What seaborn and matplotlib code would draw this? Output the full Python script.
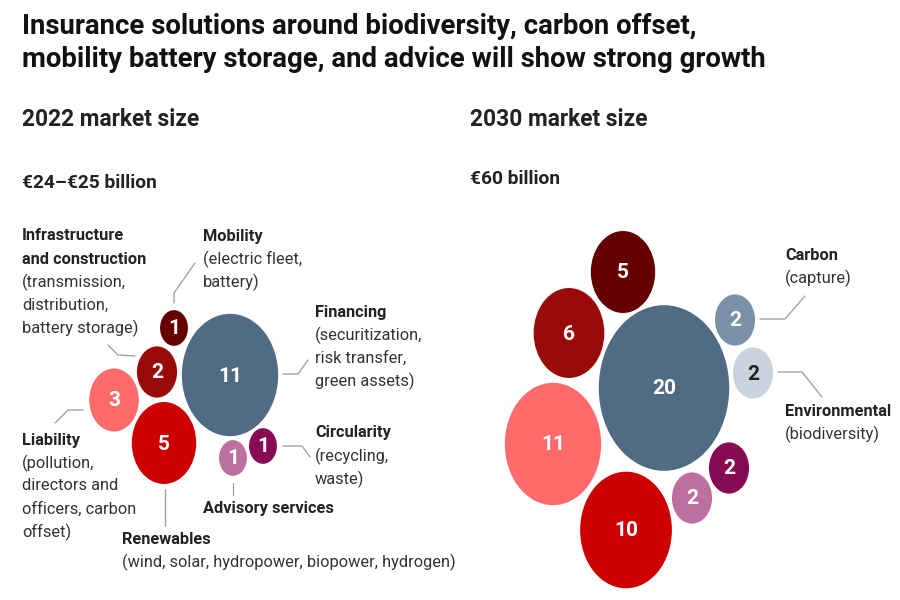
import matplotlib
matplotlib.use("Agg")
import matplotlib.pyplot as plt
from matplotlib.path import Path
from matplotlib.transforms import Affine2D
import seaborn as sns
import pandas as pd

# market size by segment, € billion
keys_2022 = ["mobility", "infrastructure", "liability", "renewables", "financing", "advisory", "circularity"]
values_2022 = [1, 2, 3, 5, 11, 1, 1]

keys_2030 = ["mobility", "infrastructure", "liability", "renewables", "financing", "advisory", "circularity", "carbon", "environmental"]
values_2030 = [5, 6, 11, 10, 20, 2, 2, 2, 2]

title = "Insurance solutions around biodiversity, carbon offset,\nmobility battery storage, and advice will show strong growth"
heading_2022 = "2022 market size"
heading_2030 = "2030 market size"
total_2022 = "€24–€25 billion"
total_2030 = "€60 billion"

colors = {
    "mobility": "#660000",
    "infrastructure": "#9a0a0a",
    "liability": "#ff6b6b",
    "renewables": "#cc0000",
    "financing": "#516b85",
    "advisory": "#bd6fa0",
    "circularity": "#870b52",
    "carbon": "#7a92a8",
    "environmental": "#c9d3dd",
}

# bubble centres (pixel layout)
pos_2022 = [(174, 328), (157, 372), (114, 400), (164, 443), (230, 375), (233, 458), (263, 446)]
pos_2030 = [(623, 272), (569, 333), (553, 444), (626, 530), (664, 388), (692, 498), (729, 468), (735, 320), (753, 373)]

sns.set_theme(style="white")
plt.rcParams["font.family"] = ["Roboto", "DejaVu Sans"]

fig = plt.figure(figsize=(9, 6), dpi=100)
ax = fig.add_axes([0, 0, 1, 1])

# circles in the source are stretched vertically
ellipse = Path.unit_circle().transformed(Affine2D().scale(0.79, 1.0))

df = pd.concat([
    pd.DataFrame({"key": keys_2022, "value": values_2022,
                  "x": [p[0] for p in pos_2022], "y": [p[1] for p in pos_2022]}),
    pd.DataFrame({"key": keys_2030, "value": values_2030,
                  "x": [p[0] for p in pos_2030], "y": [p[1] for p in pos_2030]}),
], ignore_index=True)
df["id"] = df.index.astype(str)
pal = {i: colors[k] for i, k in zip(df["id"], df["key"])}

sns.scatterplot(
    data=df, x="x", y="y", hue="id", palette=pal,
    size="value", sizes=(0, 725 * 20), size_norm=(0, 20),
    marker=ellipse, edgecolor="white", linewidth=1.2,
    legend=False, ax=ax
)

for _, r in df.iterrows():
    ax.text(r["x"], r["y"] + 1, str(r["value"]), ha="center", va="center",
            fontsize=15, fontweight="bold",
            color="#222222" if r["key"] == "environmental" else "white")

ax.set_xlim(0, 900)
ax.set_ylim(600, 0)
ax.axis("off")

dark = "#222222"
txt = "#333333"
ax.text(22, 43, title, fontsize=19.8, fontweight="bold", color="#111111", va="center", linespacing=1.3)
ax.text(22, 120, heading_2022, fontsize=16.4, fontweight="bold", color=dark, va="center")
ax.text(470, 120, heading_2030, fontsize=16.4, fontweight="bold", color=dark, va="center")
ax.text(22, 183, total_2022, fontsize=13.8, fontweight="bold", color=dark, va="center")
ax.text(470, 179, total_2030, fontsize=13.8, fontweight="bold", color=dark, va="center")


def label(x, y, bold_lines, lines):
    step = 23
    for i, s in enumerate(bold_lines):
        ax.text(x, y + i * step, s, fontsize=11.8, fontweight="bold", color=dark, va="center")
    y0 = y + len(bold_lines) * step
    for i, s in enumerate(lines):
        ax.text(x, y0 + i * step, s, fontsize=11.8, color=txt, va="center")


label(22, 236, ["Infrastructure", "and construction"], ["(transmission,", "distribution,", "battery storage)"])
label(203, 236, ["Mobility"], ["(electric fleet,", "battery)"])
label(315, 312, ["Financing"], ["(securitization,", "risk transfer,", "green assets)"])
label(315, 433, ["Circularity"], ["(recycling,", "waste)"])
label(203, 508, ["Advisory services"], [])
label(122, 539, ["Renewables"], ["(wind, solar, hydropower, biopower, hydrogen)"])
label(22, 440, ["Liability"], ["(pollution,", "directors and", "officers, carbon", "offset)"])
label(785, 255, ["Carbon"], ["(capture)"])
label(785, 411, ["Environmental"], ["(biodiversity)"])

# leader lines
leaders = [
    [(174, 303), (174, 293), (195, 263)],
    [(108, 345), (118, 355), (135, 356)],
    [(283, 374), (298, 374), (308, 360)],
    [(283, 446), (302, 446), (310, 457)],
    [(233, 483), (233, 495)],
    [(165, 489), (165, 526)],
    [(83, 410), (68, 410), (55, 423)],
    [(760, 319), (785, 319), (805, 296)],
    [(778, 372), (802, 372), (822, 397)],
]
for pts in leaders:
    ax.plot([p[0] for p in pts], [p[1] for p in pts], color="#9a9a9a", lw=0.9)

fig.savefig("out.png", dpi=100, facecolor="white")
